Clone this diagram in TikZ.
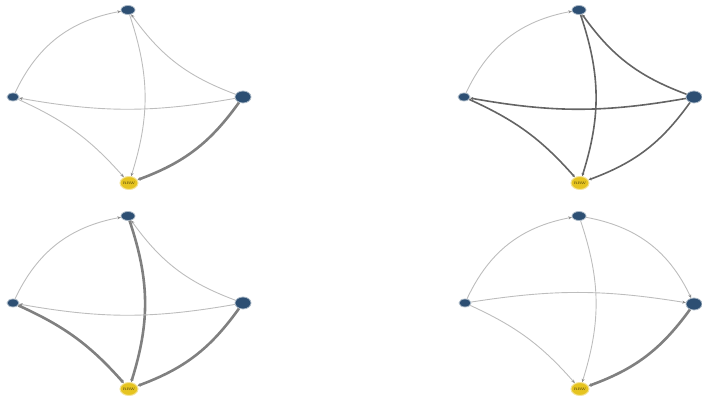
\documentclass[tikz,border=0pt]{standalone}
\usetikzlibrary{arrows.meta,shapes.geometric}
\definecolor{nodeblue}{HTML}{2D4F73}
\definecolor{nodeyel}{HTML}{E6C420}
\definecolor{yeltxt}{HTML}{6B5A10}
\definecolor{lightedge}{HTML}{BDBDBD}
\definecolor{lighttip}{HTML}{8A8A8A}
\definecolor{midedge}{HTML}{646464}
\definecolor{heavyedge}{HTML}{808080}
\tikzset{
  x=1pt,y=1pt,
  gnode/.style={ellipse, inner sep=0pt, draw=nodeblue!40, line width=0.8pt, fill=nodeblue},
  tnode/.style={gnode, minimum width=14pt, minimum height=9pt},
  lnode/.style={gnode, minimum width=12pt, minimum height=8pt},
  rnode/.style={gnode, minimum width=16pt, minimum height=12pt},
  ynode/.style={ellipse, inner sep=0pt, draw=nodeyel!45, line width=1pt, fill=nodeyel,
    minimum width=18pt, minimum height=13pt, text=yeltxt, font=\fontsize{3.5}{3.5}\selectfont\bfseries},
  light/.style={draw=lightedge, line width=0.9pt, -{Stealth[length=3.5pt,width=3pt,color=lighttip]}},
  dark/.style={draw=midedge, line width=1.6pt, -{Stealth[length=3pt,width=3pt]}},
  heavy/.style={draw=heavyedge, line width=2.6pt, -{Stealth[length=3pt,width=3.5pt]}},
}
\newcommand\mypanel[9]{%
  \begin{scope}[shift={(#2,#3)}]
    \node[tnode] (#1t) at (0,87) {};
    \node[lnode] (#1l) at (-115,0) {};
    \node[rnode] (#1r) at (115,0) {};
    \node[ynode] (#1b) at (1,-86) {RRW};
    \draw[#4] (#1l) to[bend left=27] (#1t);
    \draw[#5] (#1r) to[bend left=17] (#1t);
    \draw[#6] (#1t) to[bend left=18] (#1b);
    \draw[#7] (#1r) to[bend left=10] (#1l);
    \draw[#8] (#1l) to[bend left=12] (#1b);
    \draw[#9] (#1r) to[bend left=17] (#1b);
  \end{scope}}
\begin{document}
\begin{tikzpicture}
  \useasboundingbox (0,0) rectangle (702,406);
  \mypanel{a}{128}{309}{light}{light}{light}{light}{light}{heavy}
  \mypanel{b}{579}{309}{light}{dark}{dark}{dark}{dark}{dark}
  \mypanel{c}{128}{103}{light}{light}{heavy}{light}{heavy}{heavy}
  \begin{scope}[shift={(579,103)}]
    \node[tnode] (dt) at (0,87) {};
    \node[lnode] (dl) at (-114,0) {};
    \node[rnode] (dr) at (115,-1) {};
    \node[ynode] (db) at (1,-86) {RRW};
    \draw[light] (dl) to[bend left=27] (dt);
    \draw[light] (dt) to[bend left=27] (dr);
    \draw[light] (dt) to[bend left=18] (db);
    \draw[light] (dl) to[bend left=9] (dr);
    \draw[light] (dl) to[bend left=12] (db);
    \draw[heavy] (dr) to[bend left=17] (db);
  \end{scope}
\end{tikzpicture}
\end{document}
